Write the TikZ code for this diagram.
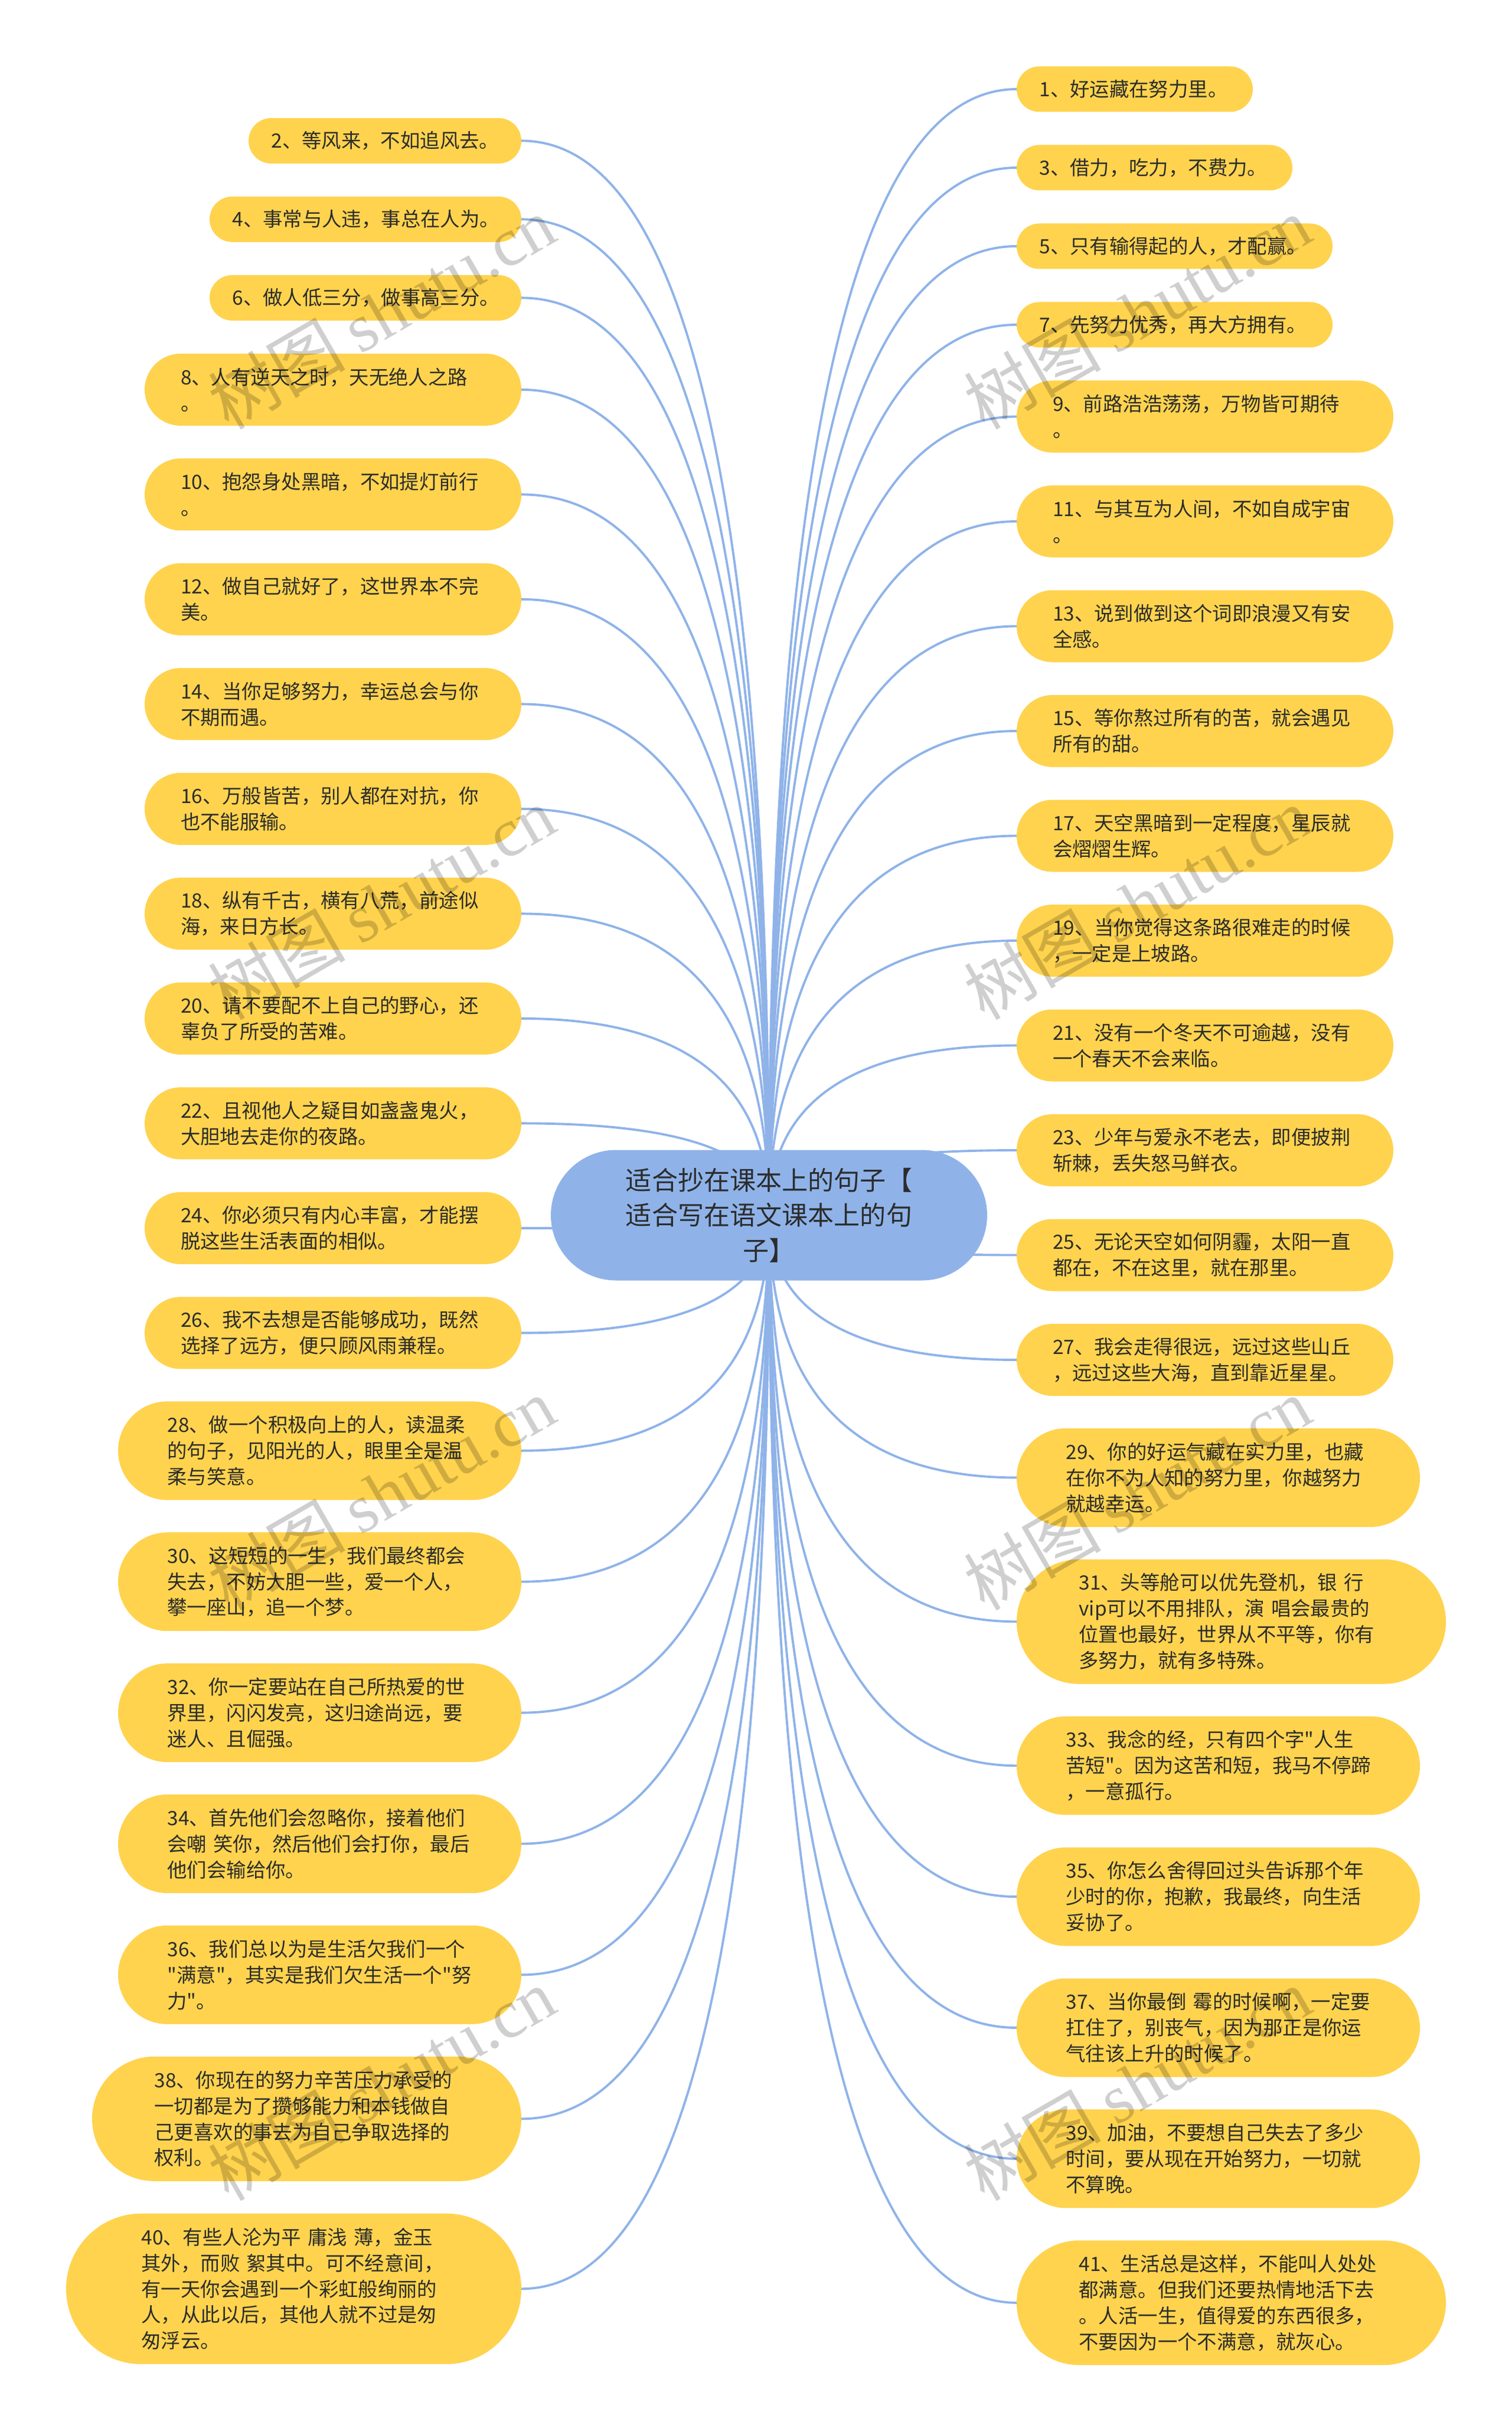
\documentclass[tikz,border=0pt]{standalone}
\usepackage{fontspec}
\newfontfamily\cjkfont{Noto Sans CJK SC}
\newfontfamily\latinserif{Liberation Serif}
\usetikzlibrary{backgrounds}
\usetikzlibrary{calc, positioning}
\definecolor{linkblue}{HTML}{8FB3E9}
\definecolor{leafyellow}{HTML}{FFD34E}
\definecolor{inkgray}{HTML}{2C2C2C}

\begin{document}
\begin{tikzpicture}[
            leafnode/.style={rectangle, fill=leafyellow, text=inkgray, outer sep=0pt, inner ysep=0pt, align=left, font=\cjkfont\fontsize{9.5}{12.5}\selectfont},
            roundnode1/.style={leafnode, minimum height=0.77cm, rounded corners=0.385cm, inner xsep=0.385cm},
            roundnode2/.style={leafnode, minimum height=1.22cm, rounded corners=0.61cm, inner xsep=0.61cm, text width=5.16cm},
            roundnode3/.style={leafnode, minimum height=1.67cm, rounded corners=0.835cm, inner xsep=0.835cm, text width=5.16cm},
            roundnode4/.style={leafnode, minimum height=2.11cm, rounded corners=1.055cm, inner xsep=1.055cm, text width=5.16cm},
            roundnode5/.style={leafnode, minimum height=2.55cm, rounded corners=1.275cm, inner xsep=1.275cm, text width=5.16cm},
            centernode/.style={rectangle, fill=linkblue, text=inkgray, outer sep=0pt, minimum width=7.39cm, minimum height=2.21cm, rounded corners=1.105cm, align=center, font=\cjkfont\fontsize{12.55}{16.9}\selectfont},
            wmtext/.style={rotate=30, text=black, text opacity=0.19, font=\cjkfont\fontsize{33}{33}\selectfont},
            linkline/.style={draw=linkblue, line width=1.1pt, to path={.. controls ($(\tikztostart)!0.667!(\tikztostart -| \tikztotarget)$) and ($(\tikztotarget)!0.667!(\tikztostart -| \tikztotarget)$) .. (\tikztotarget)}},
            ]
            \useasboundingbox (0,0) rectangle (25.6,-41.17);

            %Center
            \node[centernode] (root) at (13.025,-20.58) {适合抄在课本上的句子【\\适合写在语文课本上的句\\子】};

            %Left column
            \node[roundnode1, text width=3.85cm, anchor=east] (leaf2) at (8.83,-2.384) {2、等风来，不如追风去。};
            \node[roundnode1, text width=4.51cm, below=0.56cm of leaf2.south east, anchor=north east] (leaf4) {4、事常与人违，事总在人为。};
            \node[roundnode1, text width=4.51cm, below=0.56cm of leaf4.south east, anchor=north east] (leaf6) {6、做人低三分，做事高三分。};
            \node[roundnode2, below=0.56cm of leaf6.south east, anchor=north east] (leaf8) {8、人有逆天之时，天无绝人之路\\。};
            \node[roundnode2, below=0.555cm of leaf8.south east, anchor=north east] (leaf10) {10、抱怨身处黑暗，不如提灯前行\\。};
            \node[roundnode2, below=0.555cm of leaf10.south east, anchor=north east] (leaf12) {12、做自己就好了，这世界本不完\\美。};
            \node[roundnode2, below=0.555cm of leaf12.south east, anchor=north east] (leaf14) {14、当你足够努力，幸运总会与你\\不期而遇。};
            \node[roundnode2, below=0.555cm of leaf14.south east, anchor=north east] (leaf16) {16、万般皆苦，别人都在对抗，你\\也不能服输。};
            \node[roundnode2, below=0.555cm of leaf16.south east, anchor=north east] (leaf18) {18、纵有千古，横有八荒，前途似\\海，来日方长。};
            \node[roundnode2, below=0.555cm of leaf18.south east, anchor=north east] (leaf20) {20、请不要配不上自己的野心，还\\辜负了所受的苦难。};
            \node[roundnode2, below=0.555cm of leaf20.south east, anchor=north east] (leaf22) {22、且视他人之疑目如盏盏鬼火，\\大胆地去走你的夜路。};
            \node[roundnode2, below=0.555cm of leaf22.south east, anchor=north east] (leaf24) {24、你必须只有内心丰富，才能摆\\脱这些生活表面的相似。};
            \node[roundnode2, below=0.555cm of leaf24.south east, anchor=north east] (leaf26) {26、我不去想是否能够成功，既然\\选择了远方，便只顾风雨兼程。};
            \node[roundnode3, below=0.549cm of leaf26.south east, anchor=north east] (leaf28) {28、做一个积极向上的人，读温柔\\的句子，见阳光的人，眼里全是温\\柔与笑意。};
            \node[roundnode3, below=0.549cm of leaf28.south east, anchor=north east] (leaf30) {30、这短短的一生，我们最终都会\\失去，不妨大胆一些，爱一个人，\\攀一座山，追一个梦。};
            \node[roundnode3, below=0.549cm of leaf30.south east, anchor=north east] (leaf32) {32、你一定要站在自己所热爱的世\\界里，闪闪发亮，这归途尚远，要\\迷人、且倔强。};
            \node[roundnode3, below=0.549cm of leaf32.south east, anchor=north east] (leaf34) {34、首先他们会忽略你，接着他们\\会嘲 笑你，然后他们会打你，最后\\他们会输给你。};
            \node[roundnode3, below=0.549cm of leaf34.south east, anchor=north east] (leaf36) {36、我们总以为是生活欠我们一个\\"满意"，其实是我们欠生活一个"努\\力"。};
            \node[roundnode4, below=0.549cm of leaf36.south east, anchor=north east] (leaf38) {38、你现在的努力辛苦压力承受的\\一切都是为了攒够能力和本钱做自\\己更喜欢的事去为自己争取选择的\\权利。};
            \node[roundnode5, below=0.549cm of leaf38.south east, anchor=north east] (leaf40) {40、有些人沦为平 庸浅 薄，金玉\\其外，而败 絮其中。可不经意间，\\有一天你会遇到一个彩虹般绚丽的\\人，从此以后，其他人就不过是匆\\匆浮云。};

            %Right column
            \node[roundnode1, text width=3.23cm, anchor=west] (leaf1) at (17.22,-1.51) {1、好运藏在努力里。};
            \node[roundnode1, text width=3.90cm, below=0.56cm of leaf1.south west, anchor=north west] (leaf3) {3、借力，吃力，不费力。};
            \node[roundnode1, text width=4.58cm, below=0.56cm of leaf3.south west, anchor=north west] (leaf5) {5、只有输得起的人，才配赢。};
            \node[roundnode1, text width=4.58cm, below=0.56cm of leaf5.south west, anchor=north west] (leaf7) {7、先努力优秀，再大方拥有。};
            \node[roundnode2, below=0.56cm of leaf7.south west, anchor=north west] (leaf9) {9、前路浩浩荡荡，万物皆可期待\\。};
            \node[roundnode2, below=0.555cm of leaf9.south west, anchor=north west] (leaf11) {11、与其互为人间，不如自成宇宙\\。};
            \node[roundnode2, below=0.555cm of leaf11.south west, anchor=north west] (leaf13) {13、说到做到这个词即浪漫又有安\\全感。};
            \node[roundnode2, below=0.555cm of leaf13.south west, anchor=north west] (leaf15) {15、等你熬过所有的苦，就会遇见\\所有的甜。};
            \node[roundnode2, below=0.555cm of leaf15.south west, anchor=north west] (leaf17) {17、天空黑暗到一定程度，星辰就\\会熠熠生辉。};
            \node[roundnode2, below=0.555cm of leaf17.south west, anchor=north west] (leaf19) {19、当你觉得这条路很难走的时候\\，一定是上坡路。};
            \node[roundnode2, below=0.555cm of leaf19.south west, anchor=north west] (leaf21) {21、没有一个冬天不可逾越，没有\\一个春天不会来临。};
            \node[roundnode2, below=0.555cm of leaf21.south west, anchor=north west] (leaf23) {23、少年与爱永不老去，即便披荆\\斩棘，丢失怒马鲜衣。};
            \node[roundnode2, below=0.555cm of leaf23.south west, anchor=north west] (leaf25) {25、无论天空如何阴霾，太阳一直\\都在，不在这里，就在那里。};
            \node[roundnode2, below=0.555cm of leaf25.south west, anchor=north west] (leaf27) {27、我会走得很远，远过这些山丘\\，远过这些大海，直到靠近星星。};
            \node[roundnode3, below=0.549cm of leaf27.south west, anchor=north west] (leaf29) {29、你的好运气藏在实力里，也藏\\在你不为人知的努力里，你越努力\\就越幸运。};
            \node[roundnode4, below=0.549cm of leaf29.south west, anchor=north west] (leaf31) {31、头等舱可以优先登机，银 行\\vip可以不用排队，演 唱会最贵的\\位置也最好，世界从不平等，你有\\多努力，就有多特殊。};
            \node[roundnode3, below=0.549cm of leaf31.south west, anchor=north west] (leaf33) {33、我念的经，只有四个字"人生\\苦短"。因为这苦和短，我马不停蹄\\，一意孤行。};
            \node[roundnode3, below=0.549cm of leaf33.south west, anchor=north west] (leaf35) {35、你怎么舍得回过头告诉那个年\\少时的你，抱歉，我最终，向生活\\妥协了。};
            \node[roundnode3, below=0.549cm of leaf35.south west, anchor=north west] (leaf37) {37、当你最倒 霉的时候啊，一定要\\扛住了，别丧气，因为那正是你运\\气往该上升的时候了。};
            \node[roundnode3, below=0.549cm of leaf37.south west, anchor=north west] (leaf39) {39、加油，不要想自己失去了多少\\时间，要从现在开始努力，一切就\\不算晚。};
            \node[roundnode4, below=0.549cm of leaf39.south west, anchor=north west] (leaf41) {41、生活总是这样，不能叫人处处\\都满意。但我们还要热情地活下去\\。人活一生，值得爱的东西很多，\\不要因为一个不满意，就灰心。};

            %Lines
            \begin{scope}[on background layer]
                \draw[linkline] (leaf2.east) to (root.center);
                \draw[linkline] (leaf4.east) to (root.center);
                \draw[linkline] (leaf6.east) to (root.center);
                \draw[linkline] (leaf8.east) to (root.center);
                \draw[linkline] (leaf10.east) to (root.center);
                \draw[linkline] (leaf12.east) to (root.center);
                \draw[linkline] (leaf14.east) to (root.center);
                \draw[linkline] (leaf16.east) to (root.center);
                \draw[linkline] (leaf18.east) to (root.center);
                \draw[linkline] (leaf20.east) to (root.center);
                \draw[linkline] (leaf22.east) to (root.center);
                \draw[linkline] (leaf24.east) to (root.center);
                \draw[linkline] (leaf26.east) to (root.center);
                \draw[linkline] (leaf28.east) to (root.center);
                \draw[linkline] (leaf30.east) to (root.center);
                \draw[linkline] (leaf32.east) to (root.center);
                \draw[linkline] (leaf34.east) to (root.center);
                \draw[linkline] (leaf36.east) to (root.center);
                \draw[linkline] (leaf38.east) to (root.center);
                \draw[linkline] (leaf40.east) to (root.center);
                \draw[linkline] (leaf1.west) to (root.center);
                \draw[linkline] (leaf3.west) to (root.center);
                \draw[linkline] (leaf5.west) to (root.center);
                \draw[linkline] (leaf7.west) to (root.center);
                \draw[linkline] (leaf9.west) to (root.center);
                \draw[linkline] (leaf11.west) to (root.center);
                \draw[linkline] (leaf13.west) to (root.center);
                \draw[linkline] (leaf15.west) to (root.center);
                \draw[linkline] (leaf17.west) to (root.center);
                \draw[linkline] (leaf19.west) to (root.center);
                \draw[linkline] (leaf21.west) to (root.center);
                \draw[linkline] (leaf23.west) to (root.center);
                \draw[linkline] (leaf25.west) to (root.center);
                \draw[linkline] (leaf27.west) to (root.center);
                \draw[linkline] (leaf29.west) to (root.center);
                \draw[linkline] (leaf31.west) to (root.center);
                \draw[linkline] (leaf33.west) to (root.center);
                \draw[linkline] (leaf35.west) to (root.center);
                \draw[linkline] (leaf37.west) to (root.center);
                \draw[linkline] (leaf39.west) to (root.center);
                \draw[linkline] (leaf41.west) to (root.center);
            \end{scope}

            %Watermarks
            \node[wmtext] (wm1) at (6.46,-5.29) {树图 {\latinserif shutu.cn}};
            \node[wmtext] (wm2) at (19.26,-5.29) {树图 {\latinserif shutu.cn}};
            \node[wmtext] (wm3) at (6.46,-15.29) {树图 {\latinserif shutu.cn}};
            \node[wmtext] (wm4) at (19.26,-15.29) {树图 {\latinserif shutu.cn}};
            \node[wmtext] (wm5) at (6.46,-25.29) {树图 {\latinserif shutu.cn}};
            \node[wmtext] (wm6) at (19.26,-25.29) {树图 {\latinserif shutu.cn}};
            \node[wmtext] (wm7) at (6.46,-35.29) {树图 {\latinserif shutu.cn}};
            \node[wmtext] (wm8) at (19.26,-35.29) {树图 {\latinserif shutu.cn}};
          \end{tikzpicture}
\end{document}
